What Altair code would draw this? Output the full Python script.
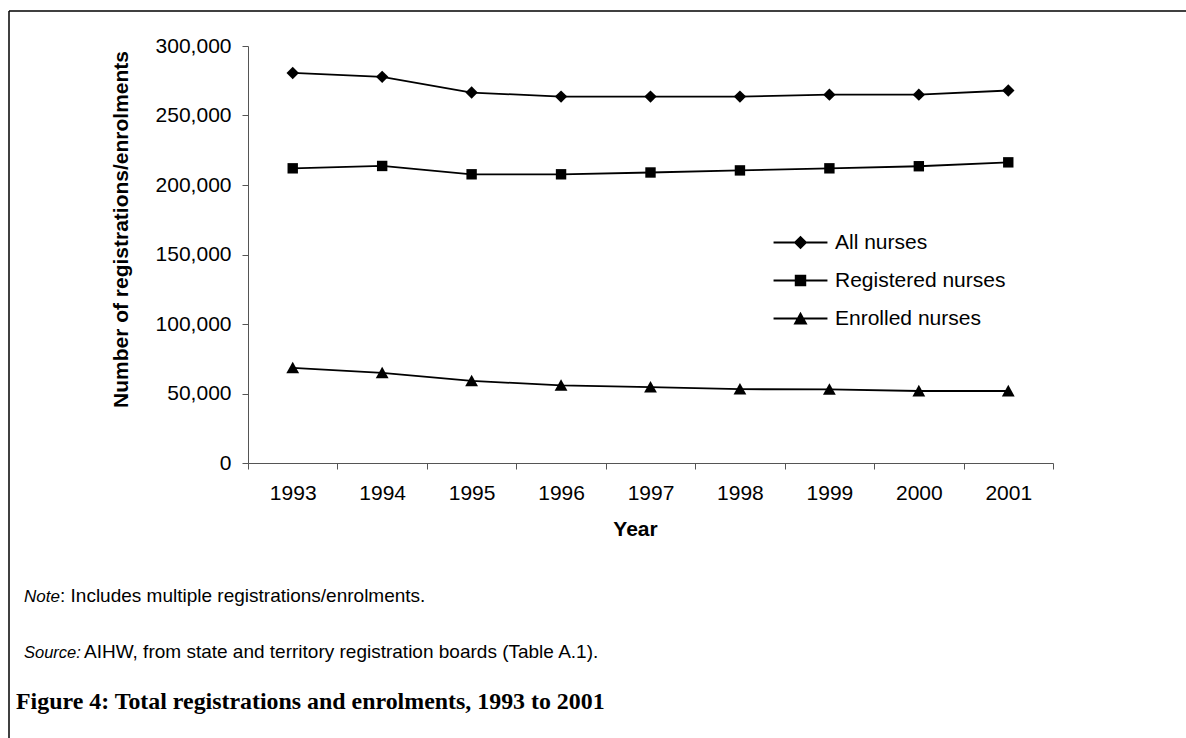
import altair as alt
import pandas as pd

# ---- data ----
years = ["1993", "1994", "1995", "1996", "1997", "1998", "1999", "2000", "2001"]
series_names = ["All nurses", "Registered nurses", "Enrolled nurses"]
all_nurses = [280600, 277800, 266500, 263600, 263600, 263600, 265000, 265000, 268000]
registered = [212000, 213700, 207700, 207700, 209000, 210500, 212000, 213500, 216300]
enrolled = [68400, 64800, 59100, 55800, 54600, 53100, 53000, 51800, 51800]
y_ticks = [0, 50000, 100000, 150000, 200000, 250000, 300000]

note_label = ["Note"]
note_text = [": Includes multiple registrations/enrolments."]
source_label = ["Source:"]
source_text = ["AIHW, from state and territory registration boards (Table A.1)."]
caption = ["Figure 4: Total registrations and enrolments, 1993 to 2001"]

rows = []
for name, vals in zip(series_names, [all_nurses, registered, enrolled]):
    for yr, v in zip(years, vals):
        rows.append({"Year": yr, "Series": name, "Value": v})
df = pd.DataFrame(rows)

FONT = "Liberation Sans"

x_enc = alt.X(
    "Year:N",
    sort=years,
    scale=alt.Scale(type="band", paddingInner=0, paddingOuter=0),
    axis=alt.Axis(
        title="Year", labelAngle=0, tickBand="extent", tickSize=6,
        labelPadding=13, labelFontSize=21, labelFont=FONT, labelColor="black",
        titleFont=FONT, titleFontSize=21, titleFontWeight="bold", titleColor="black",
        titleX=387, titleY=72, titleBaseline="alphabetic", titleAnchor="start",
        titleAlign="center",
        domainColor="#555555", tickColor="#555555", grid=False,
    ),
)
y_enc = alt.Y(
    "Value:Q",
    scale=alt.Scale(domain=[0, 300000], nice=False, zero=True),
    axis=alt.Axis(
        title="Number of registrations/enrolments", values=y_ticks,
        labelExpr="format(datum.value, ',')",
        tickSize=6, labelPadding=11, labelFontSize=21, labelFont=FONT,
        labelColor="black", titleFont=FONT, titleFontSize=21, titleFontWeight="bold",
        titleColor="black", titleX=-127, titleY=183, titleAngle=-90,
        titleBaseline="middle", titleAlign="center", titleAnchor="start",
        domainColor="#555555", tickColor="#555555", grid=False,
    ),
)

# shapes: a thin filled bar (the legend line) plus the series marker
BAR = "M-2.45,-0.08L2.45,-0.08L2.45,0.08L-2.45,0.08Z"
DIAMOND = "M0,-0.62L0.62,0L0,0.62L-0.62,0Z"
SQUARE = "M-0.52,-0.52L0.52,-0.52L0.52,0.52L-0.52,0.52Z"
TRIANGLE = "M0,-0.62L0.64,0.54L-0.64,0.54Z"
marker_paths = [DIAMOND, SQUARE, TRIANGLE]
legend_paths = [BAR + DIAMOND, BAR + SQUARE, BAR + TRIANGLE]

lines = alt.Chart(df).mark_line(strokeWidth=1.8, color="black").encode(
    x=x_enc, y=y_enc, detail="Series:N"
)

# markers drawn with the same geometry as the legend markers (size 484 -> 11 px per unit)
points = alt.Chart(df).mark_point(
    filled=True, color="black", opacity=1, strokeWidth=0.5, size=400
).encode(
    x=x_enc,
    y=y_enc,
    shape=alt.Shape(
        "Series:N",
        sort=series_names,
        scale=alt.Scale(domain=series_names, range=marker_paths),
        legend=None,
    ),
)

legend_layer = alt.Chart(df).mark_point(
    filled=True, fill="black", stroke="black", strokeWidth=0.5, opacity=0
).encode(
    x=x_enc,
    y=y_enc,
    shape=alt.Shape(
        "Series:N",
        sort=series_names,
        scale=alt.Scale(domain=series_names, range=legend_paths),
        legend=alt.Legend(
            title=None, orient="none", legendX=541, legendY=185,
            labelFont=FONT, labelFontSize=21, labelColor="black", labelLimit=400,
            symbolSize=484, labelOffset=23, rowPadding=16,
            symbolOpacity=1, symbolFillColor="black", symbolStrokeColor="black",
            symbolStrokeWidth=0.5,
        ),
    ),
)

one = pd.DataFrame({"a": [0]})
frame_top = alt.Chart(one).mark_rule(color="black", strokeWidth=1.5).encode(
    x=alt.value(-239), x2=alt.value(938), y=alt.value(-35)
)
frame_left = alt.Chart(one).mark_rule(color="black", strokeWidth=1.5).encode(
    x=alt.value(-239), y=alt.value(-35), y2=alt.value(692)
)


def txt(values, x, y, size, style="normal", weight="normal", font=FONT):
    return alt.Chart(pd.DataFrame({"t": values})).mark_text(
        align="left", baseline="alphabetic", font=font, fontSize=size,
        fontStyle=style, fontWeight=weight, color="black",
    ).encode(text="t:N", x=alt.value(x), y=alt.value(y))


texts = [
    txt(note_label, -224, 556, 17, style="italic"),
    txt(note_text, -188, 556, 19),
    txt(source_label, -224, 612, 16.5, style="italic"),
    txt(source_text, -164, 612, 19),
    txt(caption, -232, 663, 23.9, weight="bold", font="Liberation Serif"),
]

chart = alt.layer(frame_top, frame_left, lines, points, legend_layer, *texts).resolve_scale(
    shape="independent"
).properties(
    width=805,
    height=417,
    autosize=alt.AutoSizeParams(type="none"),
    padding={"left": 248, "top": 46, "right": 133, "bottom": 275},
    background="white",
).configure_view(stroke=None)

chart.save("out.html", embed_options={"renderer": "svg", "actions": False})
